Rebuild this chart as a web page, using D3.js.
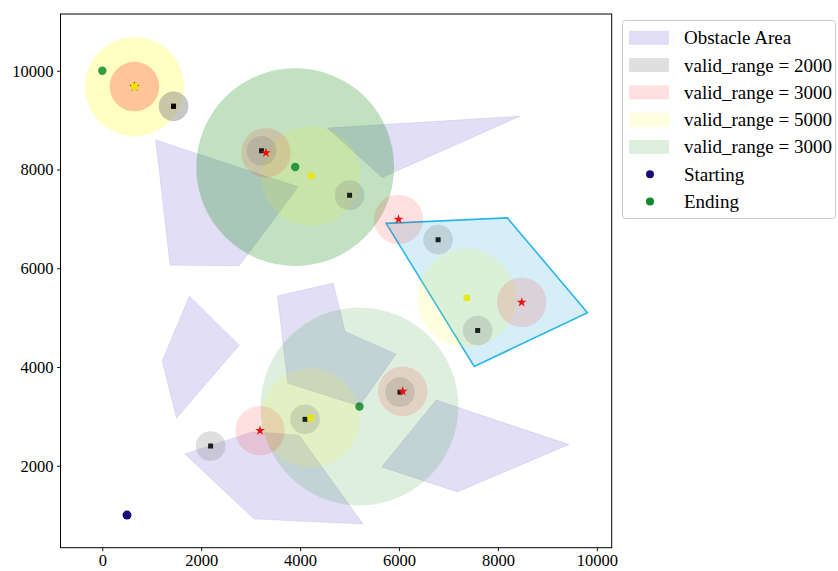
<!DOCTYPE html>
<html>
<head>
<meta charset="utf-8">
<script src="https://cdn.jsdelivr.net/npm/d3@7"></script>
<style>
  body { margin: 0; background: #fff; }
  text { font-family: "Liberation Serif", "Times New Roman", serif; }
</style>
</head>
<body>
<svg id="chart" width="838" height="571"></svg>
<script>
// Obstacle polygons (map units)
const obstacles = [
  [[1080, 8600], [3960, 7650], [2770, 6050], [1370, 6060]],
  [[4550, 8840], [8450, 9080], [5660, 7840]],
  [[1760, 5440], [2770, 4440], [1500, 2960], [1210, 4120]],
  [[3540, 5440], [4670, 5700], [4910, 4720], [5940, 4260], [5200, 3210], [3750, 3670]],
  [[1670, 2240], [3050, 2690], [3980, 2620], [5270, 820], [3070, 920]],
  [[6750, 3330], [9440, 2430], [7180, 1470], [5650, 1975]]
];
// Highlighted zone
const zone = [[5740, 6910], [8190, 7020], [9810, 5100], [7520, 4010]];

// Sites per valid range (repeated sites are stacked layers)
const sites2000 = [[1440, 9280], [1440, 9280], [3220, 8380], [5000, 7480], [6790, 6580], [7590, 4740], [2190, 2400], [4100, 2940], [6020, 3490]];
const sites3000 = [[650, 9680], [650, 9680], [3310, 8340], [5990, 6990], [8480, 5310], [3190, 2710], [6075, 3508]];
const sites5000 = [[650, 9680], [650, 9680], [4220, 7870], [7370, 5400], [4210, 2970]];
const sites3000g = [[3900, 8050], [3900, 8050], [5200, 3200]];

// Drawn coverage radii for each group
const radius2000 = 300, radius3000 = 500, radius5000 = 1000, radius3000g = 2000;

const startPoints = [[500, 1000]];
const endPoints = [[0, 10000], [3900, 8050], [5200, 3200]];

const xTicks = [0, 2000, 4000, 6000, 8000, 10000];
const yTicks = [2000, 4000, 6000, 8000, 10000];

const legendLabels = ["Obstacle Area", "valid_range = 2000", "valid_range = 3000",
  "valid_range = 5000", "valid_range = 3000", "Starting", "Ending"];

const svg = d3.select("#chart");
const plotLeft = 60.5, plotRight = 611.7, plotTop = 14, plotBottom = 547.7;
const x = d3.scaleLinear().domain([-845, 10300]).range([plotLeft, plotRight]);
const y = d3.scaleLinear().domain([340, 11150]).range([plotBottom, plotTop]);
const px = r => x(r) - x(0);

const style = {
  obstacle: { color: "#6a5acd", alpha: 0.2 },
  r2000: { color: "#808080", alpha: 0.25 },
  r3000: { color: "#ff0000", alpha: 0.12 },
  r5000: { color: "#ffff00", alpha: 0.12 },
  r3000g: { color: "#008000", alpha: 0.13 }
};

svg.append("defs").append("clipPath").attr("id", "plotclip")
  .append("rect").attr("x", plotLeft).attr("y", plotTop)
  .attr("width", plotRight - plotLeft).attr("height", plotBottom - plotTop);

const plot = svg.append("g").attr("clip-path", "url(#plotclip)");
const line = d3.line().x(d => x(d[0])).y(d => y(d[1])).curve(d3.curveLinearClosed);

plot.selectAll(".obstacle").data(obstacles).join("path")
  .attr("class", "obstacle")
  .attr("d", line)
  .attr("fill", style.obstacle.color).attr("fill-opacity", style.obstacle.alpha)
  .attr("stroke", style.obstacle.color).attr("stroke-opacity", 0.12).attr("stroke-width", 1);

plot.append("path").datum(zone)
  .attr("d", line)
  .attr("fill", "#87ceeb").attr("fill-opacity", 0.35)
  .attr("stroke", "#2bb5e8").attr("stroke-width", 1.6);

function rings(data, r, st) {
  plot.append("g").selectAll("circle").data(data).join("circle")
    .attr("cx", d => x(d[0])).attr("cy", d => y(d[1]))
    .attr("r", px(r))
    .attr("fill", st.color).attr("fill-opacity", st.alpha);
}
rings(sites3000g, radius3000g, style.r3000g);
rings(sites5000, radius5000, style.r5000);
rings(sites3000, radius3000, style.r3000);
rings(sites2000, radius2000, style.r2000);

const star = d3.symbol().type(d3.symbolStar).size(30);
const sqSmall = d3.symbol().type(d3.symbolSquare).size(25);
const sqBig = d3.symbol().type(d3.symbolSquare).size(40);

plot.append("g").selectAll("path").data(sites2000).join("path")
  .attr("transform", d => `translate(${x(d[0])},${y(d[1])})`)
  .attr("d", sqSmall).attr("fill", "#000").attr("fill-opacity", 0.85);
plot.append("g").selectAll("path").data(sites3000).join("path")
  .attr("transform", d => `translate(${x(d[0])},${y(d[1])})`)
  .attr("d", star).attr("fill", "#ee1111");
plot.append("g").selectAll("path").data(sites5000).join("path")
  .attr("transform", d => `translate(${x(d[0])},${y(d[1])})`)
  .attr("d", sqBig).attr("fill", "#e8e800").attr("fill-opacity", 0.9);

plot.append("g").selectAll("circle").data(startPoints).join("circle")
  .attr("cx", d => x(d[0])).attr("cy", d => y(d[1])).attr("r", 4.5)
  .attr("fill", "#160c7c");
plot.append("g").selectAll("circle").data(endPoints).join("circle")
  .attr("cx", d => x(d[0])).attr("cy", d => y(d[1])).attr("r", 4.2)
  .attr("fill", "#0f8a2a").attr("fill-opacity", 0.85);

// Axes
const xAxis = svg.append("g").attr("transform", `translate(0,${plotBottom})`)
  .call(d3.axisBottom(x).tickValues(xTicks).tickFormat(d3.format("d")).tickSize(3.5).tickPadding(3.5));
const yAxis = svg.append("g").attr("transform", `translate(${plotLeft},0)`)
  .call(d3.axisLeft(y).tickValues(yTicks).tickFormat(d3.format("d")).tickSize(3.5).tickPadding(3.5));
[xAxis, yAxis].forEach(a => {
  a.select(".domain").remove();
  a.selectAll(".tick line").attr("stroke", "#000").attr("stroke-width", 0.9);
  a.selectAll(".tick text").attr("fill", "#000")
    .style("font-family", '"Liberation Serif", "Times New Roman", serif')
    .style("font-size", "16.5px");
});

svg.append("rect").attr("x", plotLeft).attr("y", plotTop)
  .attr("width", plotRight - plotLeft).attr("height", plotBottom - plotTop)
  .attr("fill", "none").attr("stroke", "#000").attr("stroke-width", 1);

// Legend
const lg = svg.append("g");
lg.append("rect").attr("x", 622.5).attr("y", 20.5).attr("width", 213).attr("height", 198)
  .attr("rx", 3).attr("fill", "#fff").attr("fill-opacity", 0.8)
  .attr("stroke", "#cccccc").attr("stroke-width", 1);
const legendSwatches = [style.obstacle, style.r2000, style.r3000, style.r5000, style.r3000g];
const rowY = i => 37.8 + i * 27.3;
legendLabels.forEach((label, i) => {
  const cy = rowY(i);
  if (i < legendSwatches.length) {
    lg.append("rect").attr("x", 629).attr("y", cy - 7).attr("width", 40).attr("height", 14)
      .attr("fill", legendSwatches[i].color).attr("fill-opacity", legendSwatches[i].alpha);
  } else {
    lg.append("circle").attr("cx", 650).attr("cy", cy).attr("r", 4)
      .attr("fill", i === 5 ? "#160c7c" : "#0f8a2a");
  }
  lg.append("text").attr("x", 684).attr("y", cy).attr("dy", "0.34em")
    .style("font-size", "19px").attr("fill", "#000").text(label);
});
</script>
</body>
</html>
